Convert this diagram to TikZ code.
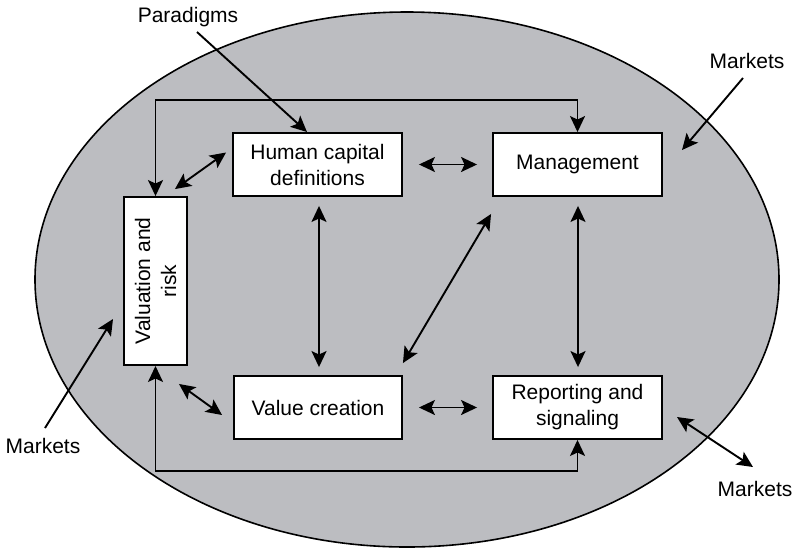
\documentclass[tikz,border=0pt]{standalone}
\usepackage{fontspec}
\setmainfont{Liberation Sans}
\usetikzlibrary{arrows.meta,calc}
\definecolor{ellgray}{RGB}{188,189,193}
\tikzset{
  tipstyle/.tip={Stealth[length=16pt,width=15pt,inset=3.5pt]},
  conn/.style={line width=1.9pt,-{tipstyle}},
  bconn/.style={line width=1.9pt,{tipstyle}-{tipstyle}},
  box/.style={draw,line width=1.9pt,fill=white,inner sep=0pt,align=center,
    font=\fontsize{21pt}{26pt}\selectfont},
  label/.style={inner sep=0pt,anchor=base,font=\fontsize{21pt}{26pt}\selectfont}
}
\begin{document}
\begin{tikzpicture}[x=1pt,y=-1pt]
\useasboundingbox (0,0) rectangle (797,550);

% surrounding market ellipse
\draw[fill=ellgray,line width=1.6pt] (407,279.5) ellipse [x radius=372,y radius=267.5];

% boxes
\node[box,minimum width=169pt,minimum height=63pt] (hc) at (317.5,164.5) {Human capital\\definitions};
\node[box,minimum width=169pt,minimum height=63pt] (mg) at (577.5,164.5) {Management};
\node[box,minimum width=168pt,minimum height=63pt] (vc) at (318,407.5) {Value creation};
\node[box,minimum width=169pt,minimum height=63pt] (rs) at (577.5,407.5) {Reporting and\\signaling};
\node[box,minimum width=63pt,minimum height=168pt] (vr) at (155.5,281) {};
\node[rotate=90,align=center,inner sep=0pt,font=\fontsize{21pt}{26pt}\selectfont] (vrtext) at (vr.center) {Valuation and\\risk};

% outer labels
\node[label] (par) at (188,22) {Paradigms};
\node[label] (mk1) at (747,68) {Markets};
\node[label] (mk2) at (43,453) {Markets};
\node[label] (mk3) at (755,496) {Markets};

% loop rails
\coordinate (topy) at (0,100);
\coordinate (boty) at (0,471);
\draw[bconn] (vr.north) -- (vr.north |- topy) -| (mg.north);
\draw[bconn] (vr.south) -- (vr.south |- boty) -| (rs.south);

% links between boxes
\draw[bconn,shorten <=16pt,shorten >=15pt] (hc.east) -- (mg.west);
\draw[bconn,shorten <=16pt,shorten >=15pt] (vc.east) -- (rs.west);
\draw[bconn] ($(hc.south)+(1.5,9)$) -- ($(vc.north)+(1,-8)$);
\draw[bconn] ($(mg.south)+(0.5,9)$) -- ($(rs.south |- rs.north)+(0.5,-8)$);
\draw[bconn] ($(mg.south west)+(-1,17)$) -- ($(vc.north east)+(0,-12)$);
\draw[bconn] ($(hc.west)+(-6,-12)$) -- ($(vr.north east)+(-13,-7)$);
\draw[bconn] ($(vr.south east)+(-9,18)$) -- ($(vc.west)+(-11,7.5)$);

% outside influences
\coordinate (partip) at (307,132);
\coordinate (mk1tip) at (682,150);
\coordinate (mk2tip) at (113,319);
\coordinate (mk3tip) at (677,417);
\draw[conn] ($(par.base)+(9,10)$) -- (partip);
\draw[conn] ($(mk1.base)+(-4,10)$) -- (mk1tip);
\draw[conn] ($(mk2.base)+(2,-25)$) -- (mk2tip);
\draw[bconn] ($(mk3.base)+(-2,-29)$) -- (mk3tip);
\end{tikzpicture}
\end{document}
